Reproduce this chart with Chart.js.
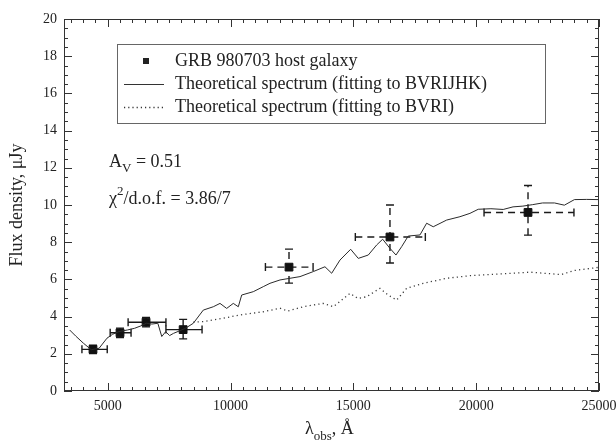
<!DOCTYPE html>
<html>
<head>
<meta charset="utf-8">
<script src="https://cdn.jsdelivr.net/npm/chart.js@4"></script>
<style>
  html, body { margin: 0; padding: 0; background: #fff; }
  #wrap { width: 616px; height: 446px; }
</style>
</head>
<body>
<div id="wrap"><canvas id="sed"></canvas></div>
<script>
// Photometry of the host galaxy (wavelength in A, flux in uJy)
const hostWave = [4400, 5500, 6560, 8070, 12380, 16490, 22110];
const hostFlux = [2.24, 3.13, 3.70, 3.30, 6.66, 8.28, 9.60];
const waveLow = [3950, 5100, 5830, 7370, 11420, 15080, 20320];
const waveHigh = [4980, 5950, 7370, 8840, 13360, 17930, 23980];
const fluxLow = [2.02, 2.88, 3.45, 2.80, 5.80, 6.88, 8.38];
const fluxHigh = [2.46, 3.38, 3.95, 3.85, 7.63, 10.0, 11.05];
const dashedErr = [false, false, false, false, true, true, true];

// Theoretical spectrum fitted to BVRIJHK (solid)
const fitAllWave = [3450, 3700, 4010, 4330, 4650, 4970, 5200, 5450, 5800, 6090, 6350, 6570, 6800, 7040, 7200, 7360, 7520, 7680, 7900, 8160, 8484,
  8891, 9298, 9571, 9843, 10112, 10316, 10454, 10926, 11333, 11606, 12013, 12420, 12827, 13368, 13844, 14117, 14455, 14890,
  15200, 15607, 15948, 16192, 16490, 16734, 16966, 17234, 17711, 17983, 18252, 18797, 19339, 19746, 20084, 20600, 21100,
  21500, 21900, 22300, 22700, 23190, 23590, 24000, 24500, 25000];
const fitAllFlux = [3.28, 2.95, 2.57, 2.22, 2.30, 2.84, 3.05, 3.19, 3.28, 3.37, 3.50, 3.64, 3.60, 3.64, 2.93, 3.19, 2.98, 3.10, 3.22, 3.37, 3.64,
  4.35, 4.53, 4.71, 4.44, 4.71, 4.53, 5.16, 5.34, 5.61, 5.79, 5.97, 6.06, 6.15, 6.42, 6.68, 6.33, 7.04, 7.62,
  7.13, 7.31, 7.85, 8.16, 7.67, 7.31, 7.76, 8.33, 8.39, 9.02, 8.83, 9.19, 9.37, 9.55, 9.77, 9.80, 9.76,
  9.90, 9.94, 10.02, 10.11, 10.11, 9.99, 10.29, 10.30, 10.29];

// Theoretical spectrum fitted to BVRI only (dotted)
const fitOptWave = [8480, 8891, 9705, 10384, 11333, 12013, 12320, 12961, 13775, 14182, 14862, 15190, 15541, 16083, 16420, 16762,
  17169, 17845, 18797, 19830, 21100, 22190, 23460, 24000, 25000];
const fitOptFlux = [3.70, 3.73, 3.91, 4.09, 4.26, 4.45, 4.30, 4.53, 4.71, 4.53, 5.25, 4.97, 5.07, 5.52, 5.16, 4.89,
  5.52, 5.79, 6.06, 6.21, 6.30, 6.39, 6.26, 6.48, 6.65];

// Axis ticks
const xTicks = [5000, 10000, 15000, 20000, 25000];
const yTicks = [0, 2, 4, 6, 8, 10, 12, 14, 16, 18, 20];
const xMin = 3220, xMax = 25000, yMin = 0, yMax = 20;

const serif = '"Liberation Serif", "DejaVu Serif", serif';
const ink = '#222';

function toPoints(xs, ys) {
    return xs.map((x, i) => ({ x: x, y: ys[i] }));
}

// Inward ticks, frame, error bars, legend and annotations
const decorPlugin = {
    id: 'decor',
    beforeDatasetsDraw(chart) {
        const { ctx, scales: { x, y } } = chart;
        ctx.save();
        ctx.strokeStyle = '#1a1a1a';
        ctx.lineWidth = 1.4;
        const cap = 4;
        hostWave.forEach((w, i) => {
            const px = x.getPixelForValue(w);
            const py = y.getPixelForValue(hostFlux[i]);
            const x0 = x.getPixelForValue(waveLow[i]);
            const x1 = x.getPixelForValue(waveHigh[i]);
            const y0 = y.getPixelForValue(fluxLow[i]);
            const y1 = y.getPixelForValue(fluxHigh[i]);
            ctx.setLineDash(dashedErr[i] ? [7, 5] : []);
            ctx.beginPath();
            ctx.moveTo(x0, py); ctx.lineTo(x1, py);
            ctx.moveTo(px, y0); ctx.lineTo(px, y1);
            ctx.stroke();
            ctx.setLineDash([]);
            ctx.beginPath();
            ctx.moveTo(x0, py - cap); ctx.lineTo(x0, py + cap);
            ctx.moveTo(x1, py - cap); ctx.lineTo(x1, py + cap);
            ctx.moveTo(px - cap, y0); ctx.lineTo(px + cap, y0);
            ctx.moveTo(px - cap, y1); ctx.lineTo(px + cap, y1);
            ctx.stroke();
        });
        ctx.restore();
    },
    afterDraw(chart) {
        const { ctx, chartArea: a, scales: { x, y } } = chart;
        ctx.save();
        ctx.strokeStyle = '#333';
        ctx.lineWidth = 1;
        ctx.strokeRect(a.left + 0.5, a.top + 0.5, a.right - a.left - 1, a.bottom - a.top - 1);

        // x ticks: major every 5000, minor every 500
        ctx.beginPath();
        for (let v = 3500; v <= xMax; v += 500) {
            const px = Math.round(x.getPixelForValue(v)) + 0.5;
            const len = v % 5000 === 0 ? 8 : 4;
            ctx.moveTo(px, a.bottom); ctx.lineTo(px, a.bottom - len);
            ctx.moveTo(px, a.top); ctx.lineTo(px, a.top + len);
        }
        // y ticks: major every 2, minor every 0.5
        for (let v = yMin; v <= yMax; v += 0.5) {
            const py = Math.round(y.getPixelForValue(v)) + 0.5;
            const len = v % 2 === 0 ? 8 : 4;
            ctx.moveTo(a.left, py); ctx.lineTo(a.left + len, py);
            ctx.moveTo(a.right, py); ctx.lineTo(a.right - len, py);
        }
        ctx.stroke();

        // legend box
        ctx.strokeStyle = '#666';
        ctx.strokeRect(117.5, 44.5, 428, 79);
        ctx.fillStyle = ink;
        ctx.fillRect(143, 58, 6, 6);
        ctx.strokeStyle = '#333';
        ctx.lineWidth = 1;
        ctx.beginPath();
        ctx.moveTo(124, 84.5); ctx.lineTo(164, 84.5);
        ctx.stroke();
        ctx.setLineDash([1.2, 3]);
        ctx.lineWidth = 1.3;
        ctx.beginPath();
        ctx.moveTo(124, 107.5); ctx.lineTo(166, 107.5);
        ctx.stroke();
        ctx.setLineDash([]);
        ctx.font = '18px ' + serif;
        ctx.textBaseline = 'middle';
        ctx.textAlign = 'left';
        ctx.fillText('GRB 980703 host galaxy', 175, 61);
        ctx.fillText('Theoretical spectrum (fitting to BVRIJHK)', 175, 84);
        ctx.fillText('Theoretical spectrum (fitting to BVRI)', 175, 107);

        // fit annotations
        ctx.textBaseline = 'alphabetic';
        let tx = 109;
        ctx.font = '18px ' + serif;
        ctx.fillText('A', tx, 167);
        tx += ctx.measureText('A').width;
        ctx.font = '13px ' + serif;
        ctx.fillText('V', tx, 172);
        tx += ctx.measureText('V').width;
        ctx.font = '18px ' + serif;
        ctx.fillText(' = 0.51', tx, 167);

        tx = 109;
        ctx.fillText('\u03C7', tx, 204);
        tx += ctx.measureText('\u03C7').width;
        ctx.font = '13px ' + serif;
        ctx.fillText('2', tx, 195);
        tx += ctx.measureText('2').width;
        ctx.font = '18px ' + serif;
        ctx.fillText('/d.o.f. = 3.86/7', tx, 204);

        // x axis title with subscript
        tx = 305;
        ctx.fillText('\u03BB', tx, 434);
        tx += ctx.measureText('\u03BB').width;
        ctx.font = '13px ' + serif;
        ctx.fillText('obs', tx, 440);
        tx += ctx.measureText('obs').width;
        ctx.font = '18px ' + serif;
        ctx.fillText(', \u00C5', tx, 434);
        ctx.restore();
    }
};

new Chart(document.getElementById('sed'), {
    type: 'scatter',
    data: {
        datasets: [
            {
                label: 'Theoretical spectrum (fitting to BVRIJHK)',
                data: toPoints(fitAllWave, fitAllFlux),
                showLine: true,
                borderColor: '#2a2a2a',
                borderWidth: 1,
                pointRadius: 0,
                tension: 0
            },
            {
                label: 'Theoretical spectrum (fitting to BVRI)',
                data: toPoints(fitOptWave, fitOptFlux),
                showLine: true,
                borderColor: '#3a3a3a',
                borderWidth: 1.3,
                borderDash: [1.2, 3.2],
                pointRadius: 0,
                tension: 0
            },
            {
                label: 'GRB 980703 host galaxy',
                data: toPoints(hostWave, hostFlux),
                pointStyle: 'rect',
                pointRadius: 5.5,
                backgroundColor: '#111',
                borderColor: '#111',
                borderWidth: 1
            }
        ]
    },
    options: {
        responsive: true,
        maintainAspectRatio: false,
        animation: false,
        layout: { padding: { top: 19, right: 17, left: 0, bottom: 0 } },
        plugins: {
            legend: { display: false },
            tooltip: { enabled: false }
        },
        scales: {
            x: {
                type: 'linear',
                min: xMin,
                max: xMax,
                afterBuildTicks: s => { s.ticks = xTicks.map(v => ({ value: v })); },
                afterFit: s => { s.height = 55; s.paddingLeft = 0; s.paddingRight = 0; },
                grid: { display: false, drawTicks: false },
                border: { display: false },
                ticks: {
                    padding: 7,
                    maxRotation: 0,
                    color: ink,
                    font: { family: serif, size: 14 },
                    callback: v => String(v)
                }
            },
            y: {
                type: 'linear',
                min: yMin,
                max: yMax,
                afterBuildTicks: s => { s.ticks = yTicks.map(v => ({ value: v })); },
                afterFit: s => { s.width = 64; s.paddingTop = 0; s.paddingBottom = 0; },
                grid: { display: false, drawTicks: false },
                border: { display: false },
                title: {
                    display: true,
                    text: 'Flux density, \u03BCJy',
                    color: ink,
                    font: { family: serif, size: 18 },
                    padding: { top: 6, bottom: 0 }
                },
                ticks: {
                    padding: 7,
                    color: ink,
                    font: { family: serif, size: 14 },
                    callback: v => String(v)
                }
            }
        }
    },
    plugins: [decorPlugin]
});
</script>
</body>
</html>
